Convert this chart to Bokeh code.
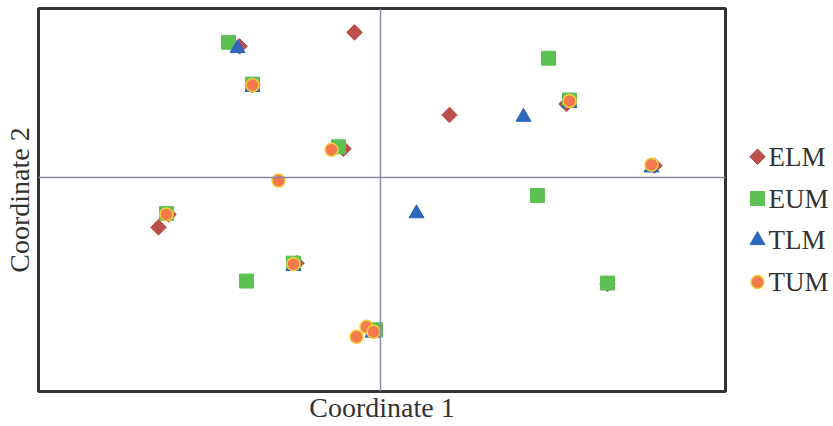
import math
from bokeh.plotting import figure
from bokeh.layouts import row
from bokeh.models import Span, Range1d, FixedTicker
from bokeh.core.properties import value
from bokeh.embed import file_html
from bokeh.resources import INLINE

# Data (Coordinate 1, Coordinate 2)
elm_x = [-0.26, -1.41, -1.28, -0.37, -2.12, -2.22, -0.84, 0.69, 1.86, 2.74, 2.27]
elm_y = [1.46, 1.32, 0.93, 0.29, -0.37, -0.50, -0.86, 0.63, 0.74, 0.12, -1.07]

eum_x = [-1.52, -1.28, -0.42, -2.14, -0.87, -1.34, -0.05, 1.68, 1.89, 1.57, 2.27]
eum_y = [1.36, 0.94, 0.31, -0.36, -0.86, -1.04, -1.53, 1.20, 0.78, -0.18, -1.06]

tlm_x = [-1.43, -1.28, -0.87, -0.08, 0.36, 1.43, 1.89, 2.71]
tlm_y = [1.30, 0.91, -0.89, -1.56, -0.36, 0.61, 0.75, 0.10]

tum_x = [-1.28, -0.49, -1.02, -2.14, -0.87, -0.14, -0.07, -0.24, 1.89, 2.71]
tum_y = [0.93, 0.28, -0.03, -0.37, -0.87, -1.50, -1.55, -1.60, 0.77, 0.13]

series_names = ["ELM", "EUM", "TLM", "TUM"]

FONT = "Liberation Serif"
TEXT_COLOR = "#333333"

# marker styles per series
styles = [
    dict(marker="square", angle=math.pi / 4, size=11, fill_color="#bb4f4a", line_color="#bb4f4a"),
    dict(marker="square", size=14, fill_color="#5cc152", line_color="#5cc152"),
    dict(marker="triangle", size=15, fill_color="#2e67bd", line_color="#2e67bd"),
    dict(marker="circle", size=13, fill_color="#f47a4d", line_color="#f2d03c", line_width=1.5),
]

H = 425
TOP, BOTTOM = 8, 32

p = figure(width=727, height=H, output_backend="svg", toolbar_location=None,
           x_range=Range1d(-3.42, 3.45), y_range=Range1d(-2.15, 1.70),
           min_border_left=38, min_border_right=2, min_border_top=TOP, min_border_bottom=BOTTOM)

p.background_fill_color = "white"
p.border_fill_color = "white"
p.grid.visible = False
p.outline_line_color = TEXT_COLOR
p.outline_line_width = 3

for ax in (p.xaxis, p.yaxis):
    ax.ticker = FixedTicker(ticks=[])
    ax.major_tick_line_color = None
    ax.minor_tick_line_color = None
    ax.axis_line_color = None
    ax.major_label_standoff = 0
    ax.axis_label_standoff = 0
    ax.axis_label_text_font = FONT
    ax.axis_label_text_font_size = "28px"
    ax.axis_label_text_font_style = "normal"
    ax.axis_label_text_color = TEXT_COLOR
p.yaxis.axis_label_standoff = 4
p.xaxis.axis_label = "Coordinate 1"
p.yaxis.axis_label = "Coordinate 2"

zero_color = "#8a8aa2"
p.add_layout(Span(location=0, dimension="height", line_color=zero_color, line_width=1.5))
p.add_layout(Span(location=0, dimension="width", line_color=zero_color, line_width=1.5))

xs = [elm_x, eum_x, tlm_x, tum_x]
ys = [elm_y, eum_y, tlm_y, tum_y]
for sx, sy, st in zip(xs, ys, styles):
    p.scatter(sx, sy, **st)

# legend panel (page-pixel units, y downward; frame aligned with main plot frame)
p2 = figure(width=106, height=H, output_backend="svg", toolbar_location=None,
            x_range=Range1d(0, 106), y_range=Range1d(H - BOTTOM, TOP),
            min_border_left=0, min_border_right=0, min_border_top=TOP, min_border_bottom=BOTTOM)
p2.axis.visible = False
p2.grid.visible = False
p2.outline_line_color = None
p2.background_fill_color = "white"
p2.border_fill_color = "white"

for i, (name, st) in enumerate(zip(series_names, styles)):
    yy = 157 + 42 * i
    p2.scatter([30], [yy], **st)
    p2.text([41], [yy], text=[name], text_font=value(FONT), text_font_size="27px",
            text_color=TEXT_COLOR, text_baseline="middle", text_align="left")

layout = row(p, p2)
open("out.html", "w").write(file_html(layout, INLINE))
